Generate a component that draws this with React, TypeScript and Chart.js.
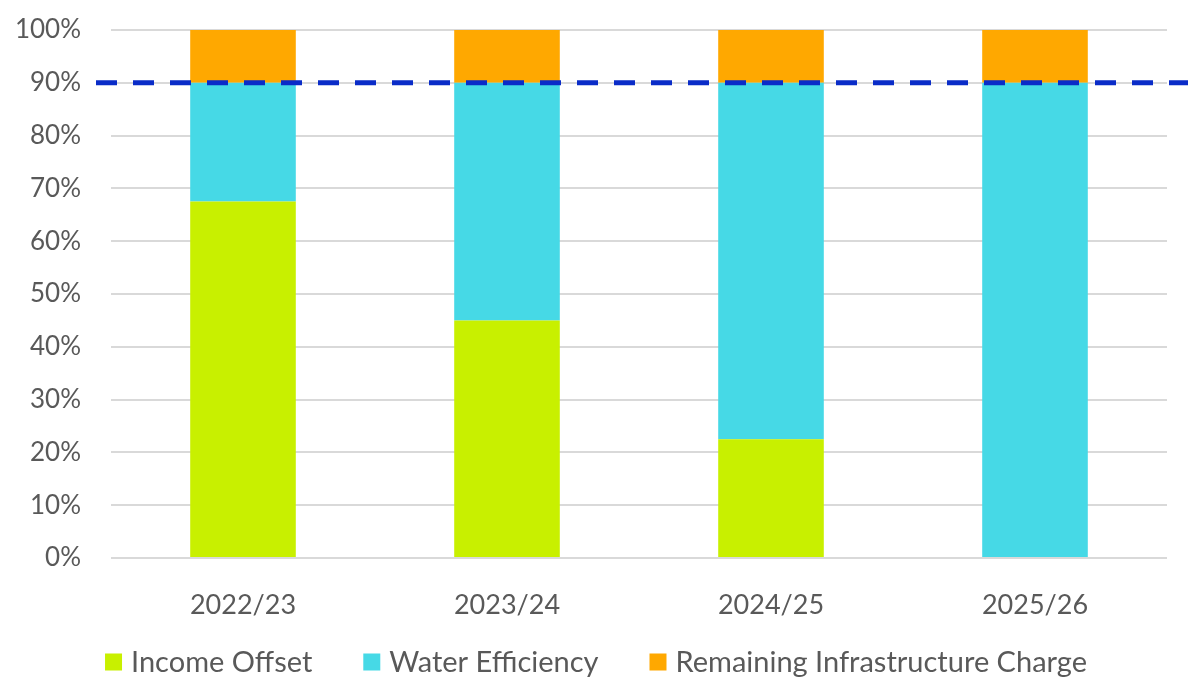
import React, { useEffect, useRef } from "react";
import { Chart, registerables } from "chart.js";

Chart.register(...registerables);

const categories = ["2022/23", "2023/24", "2024/25", "2025/26"];
const incomeOffset = [67.5, 45, 22.5, 0];
const waterEfficiency = [22.5, 45, 67.5, 90];
const remainingCharge = [10, 10, 10, 10];
const targetLine = 90;
const yTicks = [0, 10, 20, 30, 40, 50, 60, 70, 80, 90, 100];

const FONT = "Lato, 'Open Sans', sans-serif";
const TEXT = "#595959";

export default function App() {
  const ref = useRef<HTMLCanvasElement | null>(null);
  useEffect(() => {
    document.body.style.margin = "0";
    const canvas = ref.current!;
    const dashPlugin = {
      id: "dashLine",
      afterDatasetsDraw(chart: any) {
        const { ctx, chartArea, scales } = chart;
        const y = scales.y.getPixelForValue(targetLine);
        ctx.save();
        ctx.strokeStyle = "#0A2CC8";
        ctx.lineWidth = 5;
        ctx.setLineDash([21, 16]);
        ctx.beginPath();
        ctx.moveTo(chartArea.left - 15, y);
        ctx.lineTo(chart.width, y);
        ctx.stroke();
        ctx.restore();
      },
    };
    const legendPlugin = {
      id: "bottomLegend",
      afterDraw(chart: any) {
        const { ctx } = chart;
        const datasets = chart.data.datasets;
        const size = 29;
        const box = 17;
        const gapBoxText = 9;
        const gapItems = 51;
        ctx.save();
        ctx.font = `${size}px ${FONT}`;
        const widths = datasets.map((d: any) => box + gapBoxText + ctx.measureText(d.label).width);
        const total = widths.reduce((a: number, b: number) => a + b, 0) + gapItems * (datasets.length - 1);
        let x = 596 - total / 2;
        const yc = 662;
        ctx.textBaseline = "middle";
        datasets.forEach((d: any, i: number) => {
          ctx.fillStyle = d.backgroundColor;
          ctx.fillRect(x, yc - box / 2, box, box);
          ctx.fillStyle = TEXT;
          ctx.fillText(d.label, x + box + gapBoxText, yc + 1);
          x += widths[i] + gapItems;
        });
        ctx.restore();
      },
    };
    const chart = new Chart(canvas, {
      type: "bar",
      data: {
        labels: categories,
        datasets: [
          { label: "Income Offset", data: incomeOffset, backgroundColor: "#C8F000", barPercentage: 0.4, categoryPercentage: 1 },
          { label: "Water Efficiency", data: waterEfficiency, backgroundColor: "#46D9E6", barPercentage: 0.4, categoryPercentage: 1 },
          { label: "Remaining Infrastructure Charge", data: remainingCharge, backgroundColor: "#FFA800", barPercentage: 0.4, categoryPercentage: 1 },
        ],
      },
      plugins: [dashPlugin, legendPlugin],
      options: {
        animation: false,
        responsive: false,
        maintainAspectRatio: false,
        layout: { padding: { left: 0, right: 21, top: 30, bottom: 39 } },
        plugins: {
          tooltip: { enabled: false },
          legend: { display: false },
        },
        scales: {
          x: {
            stacked: true,
            grid: { display: false },
            border: { display: false },
            ticks: { color: TEXT, font: { family: FONT, size: 27 }, padding: 23 },
            afterFit: (s: any) => { s.height = 80; },
          },
          y: {
            stacked: true,
            min: 0,
            max: 100,
            afterBuildTicks: (s: any) => { s.ticks = yTicks.map((v) => ({ value: v })); },
            grid: { color: "#D9D9D9", lineWidth: 2, drawTicks: true, tickLength: 30, tickColor: "rgba(0,0,0,0)" },
            border: { display: false },
            ticks: {
              color: TEXT,
              font: { family: FONT, size: 26 },
              padding: 0,
              callback: (v: any) => v + "%",
            },
            afterFit: (s: any) => { s.width = 111; },
          },
        },
      },
    });
    return () => chart.destroy();
  }, []);
  return (
    <div style={{ position: "absolute", left: 0, top: 0, width: 1188, height: 677 }}>
      <canvas ref={ref} width={1188} height={677} style={{ width: 1188, height: 677 }} />
    </div>
  );
}
